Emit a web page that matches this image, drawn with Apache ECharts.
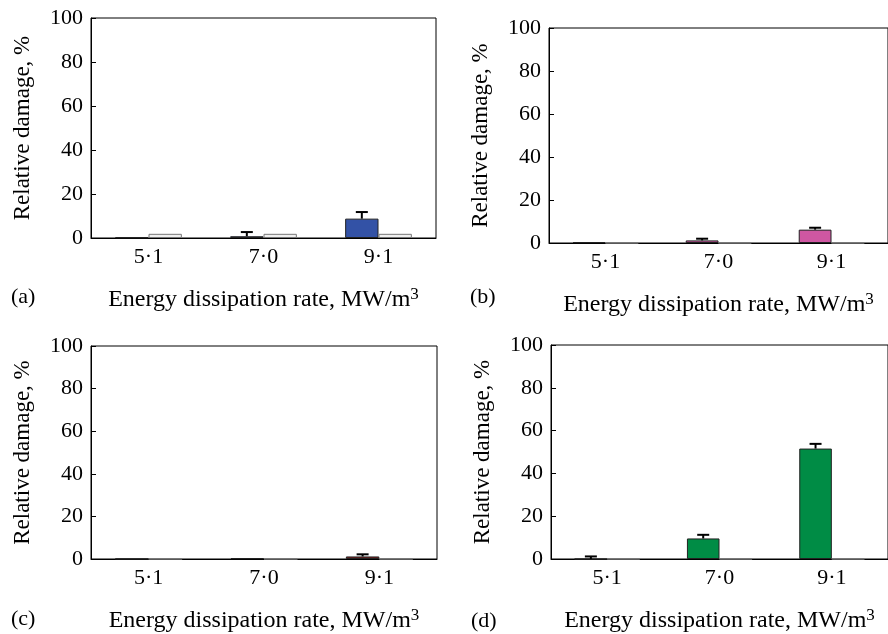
<!DOCTYPE html>
<html>
<head>
<meta charset="utf-8">
<script src="https://cdn.jsdelivr.net/npm/echarts@6/dist/echarts.min.js"></script>
<style>html,body{margin:0;padding:0;background:#fff}#c{width:888px;height:634px}</style>
</head>
<body>
<div id="c"></div>
<script>
var categories = ['5·1', '7·0', '9·1'];
var yTicks = [0, 20, 40, 60, 80, 100];

// panel (a)
var aValues = [0.3, 0.8, 8.8];
var aErrors = [0, 1.9, 3.0];
var aControl = [1.9, 1.9, 1.9];
// panel (b)
var bValues = [0.4, 1.2, 6.2];
var bErrors = [0, 0.8, 0.9];
var bControl = [0, 0, 0];
// panel (c)
var cValues = [0.1, 0.4, 1.2];
var cErrors = [0, 0, 1.0];
var cControl = [0, 0, 0];
// panel (d)
var dValues = [0, 9.6, 51.6];
var dErrors = [1.2, 1.7, 2.2];
var dControl = [0, 0, 0];

var panelLabels = ['(a)', '(b)', '(c)', '(d)'];
var xName = 'Energy dissipation rate, MW/m';
var yName = 'Relative damage, %';

var FONT = 'Liberation Serif';
var GAP = 0.42;

var panels = [
  {vals: aValues, errs: aErrors, ctrl: aControl, color: '#3352a6', grid: {left: 91, top: 18, width: 345, height: 220}},
  {vals: bValues, errs: bErrors, ctrl: bControl, color: '#cf57a2', grid: {left: 549, top: 28, width: 342, height: 215}},
  {vals: cValues, errs: cErrors, ctrl: cControl, color: '#7a1c1c', grid: {left: 91, top: 346, width: 346, height: 216}},
  {vals: dValues, errs: dErrors, ctrl: dControl, color: '#008c45', grid: {left: 551, top: 345, width: 340, height: 215}}
];

var grids = [], xAxes = [], yAxes = [], series = [];
panels.forEach(function (p, i) {
  grids.push(Object.assign({show: true, borderColor: '#000', borderWidth: 1, backgroundColor: 'transparent'}, p.grid));
  xAxes.push({
    type: 'category', gridIndex: i, data: categories,
    axisLine: {lineStyle: {color: '#000', width: 1}},
    axisTick: {inside: true, length: 6, lineStyle: {color: '#000'}},
    axisLabel: {color: '#000', fontFamily: FONT, fontSize: 22, margin: 8},
    name: '{m|' + xName + '}{s|3}', nameLocation: 'middle', nameGap: 48,
    nameTextStyle: {rich: {
      m: {fontFamily: FONT, fontSize: 24, color: '#000', lineHeight: 28},
      s: {fontFamily: FONT, fontSize: 17, color: '#000', verticalAlign: 'top', lineHeight: 24}
    }}
  });
  yAxes.push({
    type: 'value', gridIndex: i, min: 0, max: 100, interval: 20,
    axisLine: {show: true, lineStyle: {color: '#000', width: 1}},
    axisTick: {show: true, inside: true, length: 5, lineStyle: {color: '#000'}},
    splitLine: {show: false},
    axisLabel: {color: '#000', fontFamily: FONT, fontSize: 22, margin: 8},
    name: yName, nameLocation: 'middle', nameGap: 57,
    nameTextStyle: {fontFamily: FONT, fontSize: 23, color: '#000'}
  });
  series.push({
    type: 'bar', xAxisIndex: i, yAxisIndex: i, data: p.vals,
    barGap: '0%', barCategoryGap: (GAP * 100) + '%',
    itemStyle: {color: p.color, borderColor: '#222', borderWidth: 1}
  });
  series.push({
    type: 'bar', xAxisIndex: i, yAxisIndex: i, data: p.ctrl,
    barGap: '0%', barCategoryGap: (GAP * 100) + '%',
    itemStyle: {color: '#f0f0f0', borderColor: '#777', borderWidth: 1}
  });
  series.push({
    type: 'custom', xAxisIndex: i, yAxisIndex: i, z: 5,
    data: p.vals.map(function (v, k) { return [k, v, p.errs[k]]; }),
    encode: {x: 0, y: 1},
    renderItem: function (params, api) {
      var k = api.value(0), v = api.value(1), e = api.value(2);
      if (!(e > 0)) return null;
      var band = api.size([1, 0])[0];
      var bw = band * (1 - GAP) / 2;
      var base = api.coord([k, v]);
      var top = api.coord([k, v + e]);
      var cx = base[0] - bw / 2;
      var st = {stroke: '#000', lineWidth: 2};
      return {type: 'group', children: [
        {type: 'line', shape: {x1: cx, y1: base[1], x2: cx, y2: top[1]}, style: st},
        {type: 'line', shape: {x1: cx - 6, y1: top[1], x2: cx + 6, y2: top[1]}, style: st}
      ]};
    }
  });
});

var labelPos = [[11, 286], [470, 286], [11, 608], [471, 610]];
var graphics = panelLabels.map(function (t, i) {
  return {type: 'text', left: labelPos[i][0], top: labelPos[i][1],
    style: {text: t, fontFamily: FONT, fontSize: 22, fill: '#000'}};
});

var chart = echarts.init(document.getElementById('c'), null, {renderer: 'canvas'});
chart.setOption({
  animation: false,
  grid: grids, xAxis: xAxes, yAxis: yAxes, series: series,
  graphic: graphics
});
</script>
</body>
</html>
